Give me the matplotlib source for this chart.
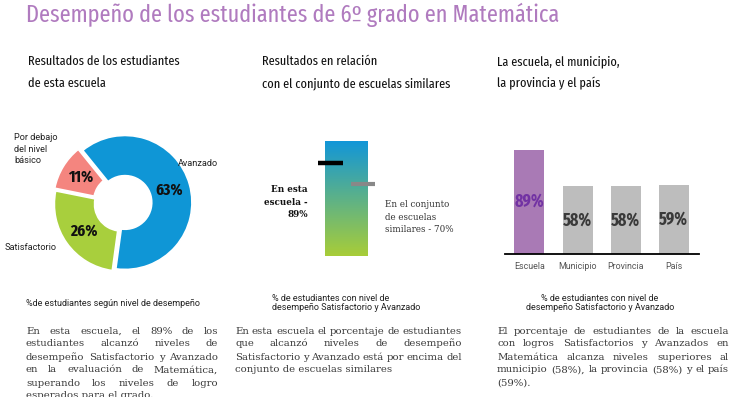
import matplotlib
matplotlib.use("Agg")
import matplotlib.pyplot as plt
import numpy as np
from matplotlib.colors import LinearSegmentedColormap

# ---------------- data ----------------
title = "Desempeño de los estudiantes de 6º grado en Matemática"
donut_labels = ["Avanzado", "Satisfactorio", "Por debajo\ndel nivel\nbásico"]
donut_values = [63, 26, 11]
school_value = 89
similar_value = 70
bar_categories = ["Escuela", "Municipio", "Provincia", "País"]
bar_values = [89, 58, 58, 59]

W, H = 739, 397
fig = plt.figure(figsize=(W / 100, H / 100), dpi=100)
R = fig.canvas.get_renderer()

NARROW = ["Fira Sans Extra Condensed", "Fira Sans Condensed", "Roboto Condensed", "DejaVu Sans"]
SERIF = ["DejaVu Serif"]
SANS = ["Roboto", "DejaVu Sans"]


def fx(x):
    return x / W


def fy(y):
    return 1 - y / H


def axes_px(l, t, w, h):
    return fig.add_axes([l / W, 1 - (t + h) / H, w / W, h / H])


def size_for(s, width, family, **kw):
    t = fig.text(0, 0, s, fontsize=10, family=family, **kw)
    w = t.get_window_extent(R).width
    t.remove()
    return 10 * width / w


# ---------------- headings ----------------
ts = size_for(title, 536, NARROW)
fig.text(fx(26), fy(22), title, family=NARROW, fontsize=ts, color="#b07bbf",
         va="baseline", ha="left")
ss = size_for("Resultados de los estudiantes", 152, NARROW)
subs = [(28, ["Resultados de los estudiantes", "de esta escuela"]),
        (262, ["Resultados en relación", "con el conjunto de escuelas similares"]),
        (497, ["La escuela, el municipio,", "la provincia y el país"])]
for x, lines in subs:
    for i, s in enumerate(lines):
        fig.text(fx(x), fy(65 + 22 * i), s, family=NARROW, fontsize=ss,
                 color="#111111", va="baseline", ha="left")

# ---------------- donut ----------------
r_px = 67
cx, cy = 123, 203
half = 80
axd = axes_px(cx - half, cy - half, 2 * half, 2 * half)
donut_colors = ["#0f96d6", "#a8cf3d", "#f4857f"]
wedges, texts, autotexts = axd.pie(
    donut_values, colors=donut_colors, startangle=129, counterclock=False,
    radius=1, explode=[0.03, 0.03, 0.045],
    wedgeprops=dict(width=0.6, edgecolor="white", linewidth=1.2),
    autopct=lambda p: f"{p:.0f}%", pctdistance=0.69,
    textprops=dict(family=NARROW, fontweight="bold", fontsize=12, color="#111111"))
lim = half / r_px
axd.set_xlim(-lim, lim)
axd.set_ylim(-lim, lim)
axd.set_aspect("equal")
axd.axis("off")
fig.text(fx(178), fy(163), donut_labels[0], family=SANS, fontsize=6.6,
         color="#222222", va="center", ha="left")
fig.text(fx(5), fy(247), donut_labels[1], family=SANS, fontsize=6.6,
         color="#222222", va="center", ha="left")
fig.text(fx(14), fy(149), donut_labels[2], family=SANS, fontsize=6.6,
         color="#222222", va="center", ha="left", linespacing=1.3)

# ---------------- paragraph font size ----------------
ps = size_for("desempeño Satisfactorio y Avanzado", 190, SERIF)

# ---------------- gradient comparison ----------------
axg = axes_px(310, 141, 75, 115)
axg.set_xlim(310, 385)
axg.set_ylim(5, 109)
cmap = LinearSegmentedColormap.from_list("g", ["#a8cd38", "#1296d8"])
grad = np.linspace(0, 1, 256).reshape(-1, 1)
axg.imshow(grad, cmap=cmap, origin="lower", aspect="auto",
           extent=[325, 368, 5, 109], zorder=1)
axg.hlines(school_value, 318, 343, color="#000000", lw=3.2, zorder=3)
axg.hlines(similar_value, 351, 375, color="#888888", lw=3.0, zorder=3)
axg.axis("off")
fig.text(fx(308), fy(202), f"En esta\nescuela -\n{school_value}%", family=SERIF,
         fontsize=ps * 0.86, fontweight="bold", color="#111111", ha="right",
         va="center", linespacing=1.45)
fig.text(fx(385), fy(217), f"En el conjunto\nde escuelas\nsimilares - {similar_value}%",
         family=SERIF, fontsize=ps * 0.86, color="#333333", ha="left", va="center",
         linespacing=1.45)

# ---------------- bars ----------------
axb = axes_px(505, 137, 194, 117)
x = np.arange(len(bar_categories))
bar_colors = ["#a97ab5"] + ["#bdbdbd"] * (len(bar_categories) - 1)
axb.bar(x, bar_values, width=0.625, color=bar_colors)
axb.set_xlim(-0.51, 3.53)
axb.set_ylim(0, 100)
for i, v in enumerate(bar_values):
    axb.text(i, v / 2, f"{v}%", ha="center", va="center", family=NARROW,
             fontweight="bold", fontsize=12.5,
             color="#7232a3" if i == 0 else "#3a3a3a")
for s in ["top", "left", "right"]:
    axb.spines[s].set_visible(False)
axb.spines["bottom"].set_linewidth(1.3)
axb.spines["bottom"].set_color("#000000")
axb.set_yticks([])
axb.set_xticks(x)
axb.set_xticklabels(bar_categories, family=SANS, fontsize=6.4, color="#555555")
axb.tick_params(axis="x", length=0, pad=6)

# ---------------- captions ----------------
fig.text(fx(26), fy(303), "%de estudiantes según nivel de desempeño", family=SANS,
         fontsize=6.5, color="#222222", va="center", ha="left")
cap = "% de estudiantes con nivel de\ndesempeño Satisfactorio y Avanzado"
fig.text(fx(272), fy(303), cap, family=SANS, fontsize=6.5, color="#222222",
         va="center", ha="left", linespacing=1.12)
fig.text(fx(600), fy(303), cap, family=SANS, fontsize=6.5, color="#222222",
         va="center", ha="center", linespacing=1.12)


# ---------------- paragraphs ----------------
def justify(lines, x0, x1, y0, dy, size):
    kw = dict(family=SERIF, fontsize=size, color="#3a3a3a", va="baseline",
              ha="left")
    for i, line in enumerate(lines):
        y = y0 + i * dy
        words = line.split(" ")
        if i == len(lines) - 1 or len(words) == 1:
            fig.text(fx(x0), fy(y), line, **kw)
            continue
        tt = [fig.text(0, 0, w, **kw) for w in words]
        ws = [t.get_window_extent(R).width for t in tt]
        gap = (x1 - x0 - sum(ws)) / (len(words) - 1)
        xx = x0
        for t, w in zip(tt, ws):
            t.set_position((fx(xx), fy(y)))
            xx += w + gap


p1 = [f"En esta escuela, el {school_value}% de los",
      "estudiantes alcanzó niveles de",
      "desempeño Satisfactorio y Avanzado",
      "en la evaluación de Matemática,",
      "superando los niveles de logro",
      "esperados para el grado."]
p2 = ["En esta escuela el porcentaje de estudiantes",
      "que alcanzó niveles de desempeño",
      "Satisfactorio y Avanzado está por encima del",
      "conjunto de escuelas similares"]
p3 = ["El porcentaje de estudiantes de la escuela",
      "con logros Satisfactorios y Avanzados en",
      "Matemática alcanza niveles superiores al",
      f"municipio ({bar_values[1]}%), la provincia ({bar_values[2]}%) y el país",
      f"({bar_values[3]}%)."]
justify(p1, 26, 218, 333.5, 13, ps)
justify(p2, 235, 462, 333.5, 13, ps)
justify(p3, 497, 729, 333.5, 13, ps)

fig.savefig("out.png", dpi=100)
